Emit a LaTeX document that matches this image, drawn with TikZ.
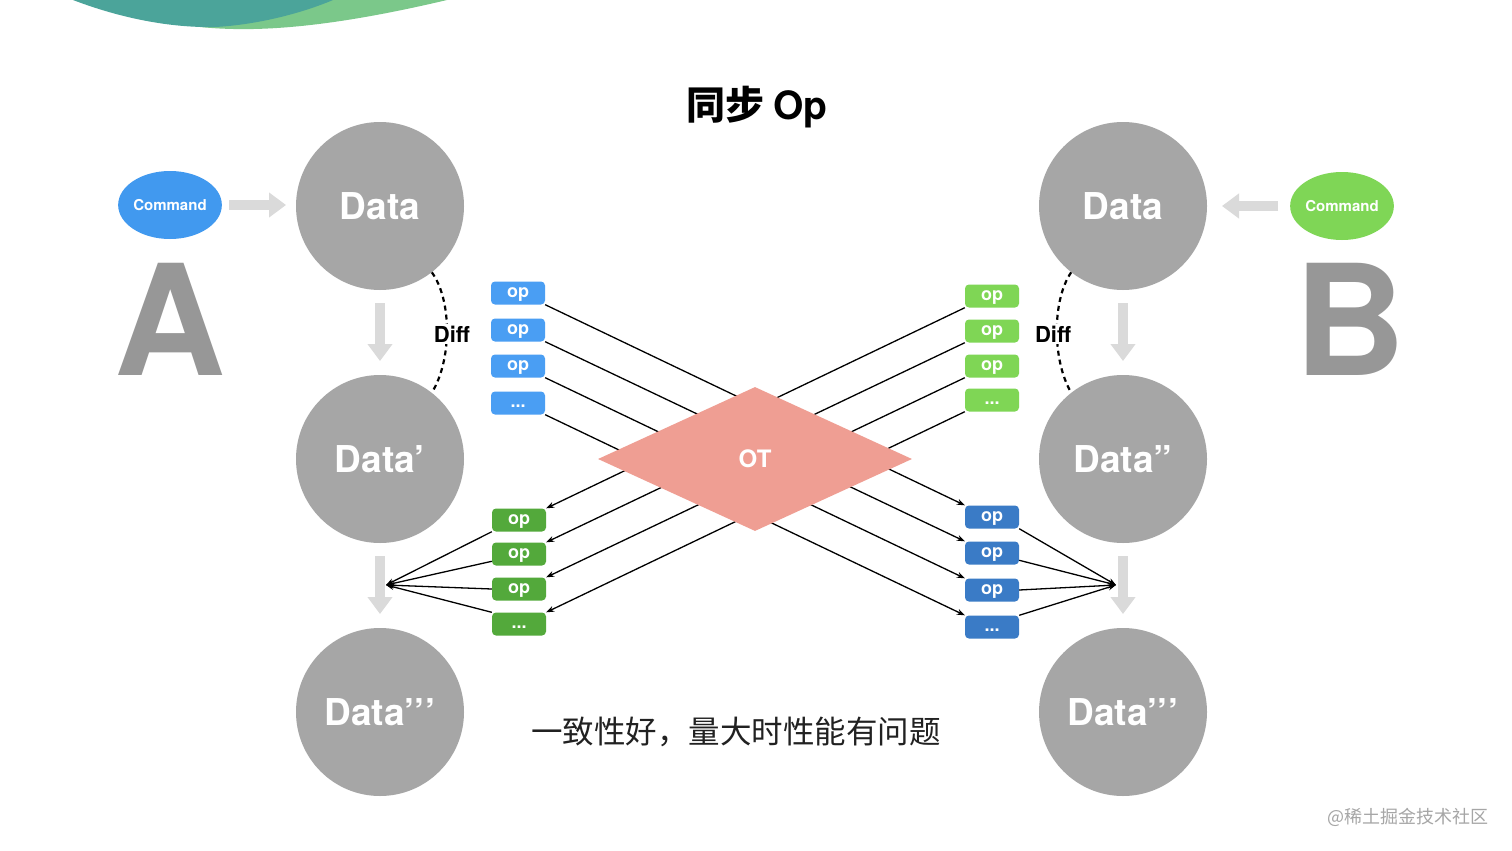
\documentclass[tikz,border=0pt]{standalone}
\usepackage{fontspec}
\setmainfont{TeX Gyre Heros}
\newfontfamily\cjk{Noto Sans CJK SC}
\usetikzlibrary{arrows.meta,shapes.geometric}
\newcommand\mydots{...}
\definecolor{datagray}{HTML}{A6A6A6}
\definecolor{lettergray}{HTML}{979797}
\definecolor{arrowgray}{HTML}{DADADA}
\definecolor{cmdblue}{HTML}{4199EF}
\definecolor{cmdgreen}{HTML}{7FD656}
\definecolor{opblue}{HTML}{4A9EF3}
\definecolor{opgreen}{HTML}{7FD655}
\definecolor{opdgreen}{HTML}{53A93B}
\definecolor{opdblue}{HTML}{3A7BC6}
\definecolor{otc}{HTML}{EF9E93}
\definecolor{teal}{HTML}{4BA49A}
\definecolor{lgreen}{HTML}{7BC88A}
\begin{document}
\begin{tikzpicture}[x=1pt,y=-1pt,
  datacircle/.style={circle,fill=datagray,minimum size=168pt,inner sep=0pt,text=white,font=\fontsize{37}{40}\selectfont\bfseries},
  cmd/.style={ellipse,minimum width=102pt,minimum height=68pt,inner sep=0pt,text=white,font=\fontsize{15}{16}\selectfont\bfseries},
  opbox/.style={rectangle,rounded corners=4pt,minimum width=54pt,minimum height=23pt,inner sep=0pt,text height=11pt,text depth=2pt,text=white,font=\fontsize{18}{18}\selectfont\bfseries},
  bigletter/.style={text=lettergray,font=\fontsize{154}{154}\selectfont\bfseries,inner sep=0pt},
  grayarrow/.style={draw=arrowgray,line width=10pt,-{Triangle[width=24pt,length=17pt]}},
  oparrow/.style={draw=black,line width=1.3pt,-{Stealth[length=8pt,width=6pt]}},
  diffarc/.style={draw=black,line width=2.2pt,dash pattern=on 5pt off 4pt},
  difflabel/.style={fill=white,inner sep=2pt,font=\fontsize{22}{22}\selectfont\bfseries}
]
\useasboundingbox (0,0) rectangle (1512,851);
\fill[white] (0,0) rectangle (1512,851);
% top decoration
\fill[lgreen] (200,27) .. controls (250,32) and (320,30) .. (447,0) -- (330,0) .. controls (300,12) and (260,24) .. (200,27) -- cycle;
\fill[teal] (73,0) .. controls (120,18) and (170,28) .. (215,27) .. controls (255,25) and (300,14) .. (333,0) -- cycle;

% title
\node (title) at (757,107) {\cjk\fontsize{39}{42}\selectfont\bfseries 同步 \fontspec{TeX Gyre Heros}\bfseries Op};

% data circles
\node[datacircle] (la) at (380,206) {Data};
\node[datacircle] (lb) at (380,459) {Data’};
\node[datacircle] (lc) at (380,712) {Data’’’};
\node[datacircle] (ra) at (1123,206) {Data};
\node[datacircle] (rb) at (1123,459) {Data”};
\node[datacircle] (rc) at (1123,712) {Data’’’};

% commands
\node[cmd,fill=cmdblue] (cmdl) at (170,205) {Command};
\node[cmd,fill=cmdgreen] (cmdr) at (1342,206) {Command};

% big letters
\node[bigletter] (letA) at (170,319) {A};
\node[bigletter] (letB) at (1350,319) {B};

% gray arrows
\coordinate (al1) at (229,205); \coordinate (al2) at (286,205);
\draw[grayarrow] (al1) -- (al2);
\coordinate (ar1) at (1278,206); \coordinate (ar2) at (1222,206);
\draw[grayarrow] (ar1) -- (ar2);
\coordinate (dl1) at (380,303); \coordinate (dl2) at (380,361);
\draw[grayarrow] (dl1) -- (dl2);
\coordinate (dl3) at (380,556); \coordinate (dl4) at (380,614);
\draw[grayarrow] (dl3) -- (dl4);
\coordinate (dr1) at (1123,303); \coordinate (dr2) at (1123,361);
\draw[grayarrow] (dr1) -- (dr2);
\coordinate (dr3) at (1123,556); \coordinate (dr4) at (1123,614);
\draw[grayarrow] (dr3) -- (dr4);

% diff arcs
\draw[diffarc] (la.-52) .. controls (452,300) and (452,360) .. (lb.52);
\node[difflabel] (diffl) at (452,334) {Diff};
\draw[diffarc] (ra.232) .. controls (1052,300) and (1052,360) .. (rb.128);
\node[difflabel] (diffr) at (1053,334) {Diff};

% op boxes
\foreach \i/\y/\t in {1/293/op,2/330/op,3/366/op,4/403/\mydots}
  \node[opbox,fill=opblue] (tb\i) at (518,\y) {\t};
\foreach \i/\y/\t in {1/296/op,2/331/op,3/366/op,4/400/\mydots}
  \node[opbox,fill=opgreen] (tg\i) at (992,\y) {\t};
\foreach \i/\y/\t in {1/520/op,2/554/op,3/589/op,4/624/\mydots}
  \node[opbox,fill=opdgreen] (bg\i) at (519,\y) {\t};
\foreach \i/\y/\t in {1/517/op,2/553/op,3/590/op,4/627/\mydots}
  \node[opbox,fill=opdblue] (bb\i) at (992,\y) {\t};

% crossing lines
\foreach \i in {1,2,3,4} {
  \draw[oparrow] (tb\i.south east) -- (bb\i.north west);
  \draw[oparrow] (tg\i.south west) -- (bg\i.north east);
}

% OT diamond
\node[diamond,fill=otc,minimum width=314pt,minimum height=144pt,aspect=2.18,inner sep=0pt,text=white,font=\fontsize{24}{24}\selectfont\bfseries] (ot) at (755,459) {OT};

% converging arrows
\coordinate (cl) at (386,585);
\coordinate (cr) at (1116,585);
\draw[oparrow] (bg1.south west) -- (cl);
\draw[oparrow] (bg2.195) -- (cl);
\draw[oparrow] (bg3.west) -- (cl);
\draw[oparrow] (bg4.north west) -- (cl);
\draw[oparrow] (bb1.south east) -- (cr);
\draw[oparrow] (bb2.-15) -- (cr);
\draw[oparrow] (bb3.east) -- (cr);
\draw[oparrow] (bb4.north east) -- (cr);

% bottom text
\node[text=black!87] (note) at (736,732) {\cjk\fontsize{31.5}{34}\selectfont 一致性好，量大时性能有问题};
\node[text=black!35] (wm) at (1408,817) {\cjk\fontsize{18}{20}\selectfont @稀土掘金技术社区};
\end{tikzpicture}
\end{document}
